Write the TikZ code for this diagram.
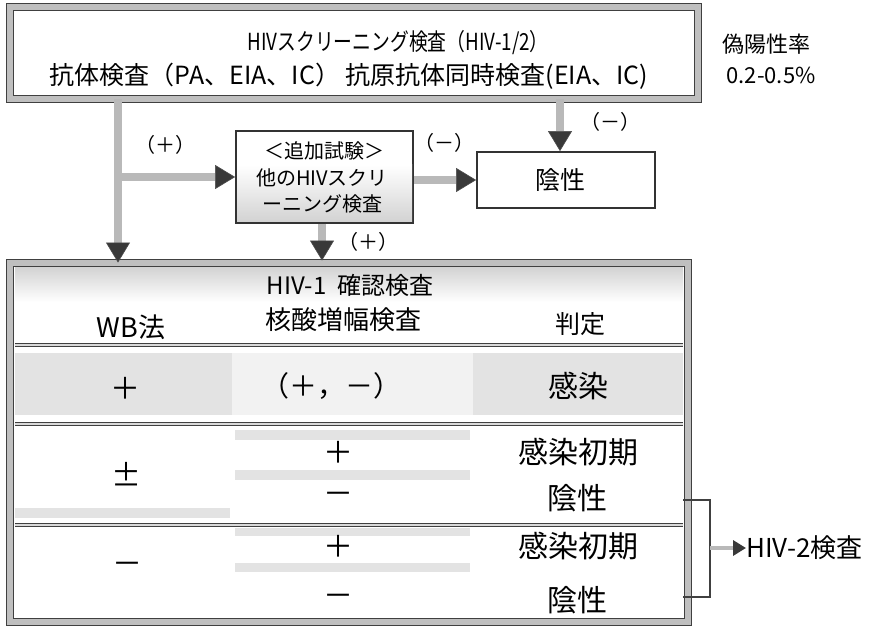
\documentclass[tikz,border=0pt]{standalone}
\usepackage{fontspec}
\setmainfont{Noto Sans CJK JP}
\usetikzlibrary{arrows.meta}
\begin{document}
\begin{tikzpicture}[x=1pt,y=-1pt,
  heavybox/.style={draw=black!75, line width=0.9pt, double=gray!50, double distance=6pt, fill=white, inner sep=0pt},
  thinbox/.style={draw=black!80, line width=1.8pt, fill=white, inner sep=0pt},
  flow/.style={draw=gray!55, line width=8pt, -{Triangle[width=24pt,length=20pt,fill=gray!45!black,color=black!70,line width=0.6pt]}},
  small/.style={draw=gray!55, line width=4pt, -{Triangle[width=15pt,length=13pt,fill=gray!45!black,color=gray!45!black]}},
  lbl/.style={font=\fontsize{20}{24}\selectfont, inner sep=0pt},
  big/.style={font=\fontsize{30}{34}\selectfont, inner sep=0pt},
  hdr/.style={font=\fontsize{27}{30}\selectfont, inner sep=0pt},
  dbl/.style={draw=black!75, line width=0.8pt, double=gray!30, double distance=2pt},
  band/.style={fill=gray!22, draw=none}
]
\useasboundingbox (0,0) rectangle (872,628);
\fill[white] (0,0) rectangle (872,628);

% top box
\node[heavybox, minimum width=688pt, minimum height=92pt] (top) at (354,53) {};
\node[lbl, font=\fontsize{23.5}{26}\selectfont] (t1) at (398,43) {\scalebox{0.8}[1]{HIVスクリーニング検査（HIV-1/2）}};
\node[lbl, font=\fontsize{25}{28}\selectfont] (t2) at (349,76) {抗体検査（PA、EIA、IC）\ 抗原抗体同時検査(EIA、IC)};
\node[lbl, font=\fontsize{22}{26}\selectfont] (fp1) at (766,44) {偽陽性率};
\node[lbl, font=\fontsize{22}{26}\selectfont] (fp2) at (771,75) {0.2-0.5\%};

% middle box
\node[thinbox, minimum width=177pt, minimum height=92pt] (mid) at (324.5,177) {};
\shade[top color=white, bottom color=gray!35] (237,165) rectangle (412,222);
\node[lbl] (m1) at (324,151) {＜追加試験＞};
\node[lbl] (m2) at (322,178) {他のHIVスクリ};
\node[lbl] (m3) at (322,204) {ーニング検査};

% negative box
\node[thinbox, minimum width=178pt, minimum height=56pt] (neg) at (566,180) {};
\node[lbl, font=\fontsize{25}{28}\selectfont] (negt) at (560,180) {陰性};

% big box
\node[heavybox, minimum width=678pt, minimum height=359pt] (conf) at (349,442.5) {};

% bands
\shade[top color=gray!35, bottom color=white] (15,267) rectangle (683,302);
\fill[band] (15,353) rectangle (232,415);
\fill[gray!10] (232,353) rectangle (473,415);
\fill[band] (473,353) rectangle (683,415);
\fill[band] (235,430) rectangle (470,440);
\fill[band] (235,470) rectangle (470,480);
\fill[band] (15,508) rectangle (230,518);
\fill[band] (235,528) rectangle (470,536);
\fill[band] (235,563) rectangle (470,572);

% connectors
\coordinate (split) at (118,177);
\coordinate (ndrop) at (560,100);
\coordinate (mdrop) at (322,226);
\draw[flow] (top.south -| split) -- (conf.north -| split);
\draw[flow] (split) -- (mid.west |- split);
\draw[flow] (mid.east |- neg.west) -- (neg.west);
\draw[flow] (top.south -| ndrop) -- (neg.north -| ndrop);
\draw[flow] (mid.south -| mdrop) -- ([yshift=2pt]conf.north -| mdrop);
\node[lbl] (pl1) at (165,145) {（＋）};
\node[lbl] (mi1) at (444,143) {（－）};
\node[lbl] (mi2) at (610,122) {（－）};
\node[lbl] (pl2) at (368,242) {（＋）};

% table header
\node[hdr, font=\fontsize{24}{28}\selectfont] (th) at (350,285) {HIV-1\ \ 確認検査};
\node[hdr] (hwb) at (131,327) {WB法};
\node[hdr, font=\fontsize{26}{30}\selectfont] (hna) at (343,320) {核酸増幅検査};
\node[hdr, font=\fontsize{25}{30}\selectfont] (hj) at (580,324) {判定};

% separators
\draw[dbl] (15,345) -- (683,345);
\draw[dbl] (15,424) -- (683,424);
\draw[dbl] (15,525) -- (683,525);

% rows
\node[big] (r1a) at (125,388) {＋};
\node[big, font=\fontsize{28}{32}\selectfont] (r1b) at (331,386) {（＋，－）};
\node[big] (r1c) at (578,386) {感染};

\node[big] (r2a) at (126,474) {±};
\node[big] (r2b) at (338,452) {＋};
\node[big] (r2c) at (578,452) {感染初期};
\node[big] (r2d) at (338,498) {－};
\node[big] (r2e) at (577,498) {陰性};

\node[big] (r3a) at (127,568) {－};
\node[big] (r3b) at (338,546) {＋};
\node[big] (r3c) at (578,546) {感染初期};
\node[big] (r3d) at (338,600) {－};
\node[big] (r3e) at (577,600) {陰性};

% bracket and HIV-2
\coordinate (bt) at (683,500);
\coordinate (bb) at (683,597);
\coordinate (bm) at (710,548);
\draw[draw=black!75, line width=2.5pt] (bt) -- (710,500) -- (710,597) -- (bb);
\node[lbl, font=\fontsize{26}{30}\selectfont, anchor=west] (hiv2) at (746,548) {HIV-2検査};
\draw[small] (bm) -- (hiv2.west);
\end{tikzpicture}
\end{document}
